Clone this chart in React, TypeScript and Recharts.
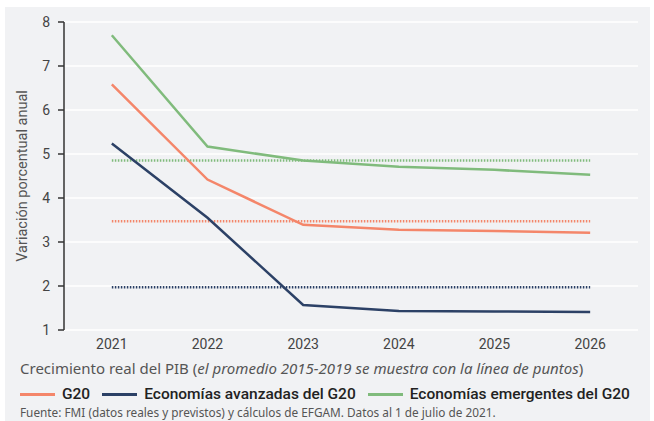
import React from 'react';
import { LineChart, Line, XAxis, YAxis, CartesianGrid, Label } from 'recharts';

const years = ['2021', '2022', '2023', '2024', '2025', '2026'];
const g20 = [6.58, 4.42, 3.39, 3.28, 3.25, 3.21];
const advanced = [5.24, 3.55, 1.57, 1.43, 1.42, 1.41];
const emerging = [7.7, 5.17, 4.85, 4.71, 4.64, 4.53];
// promedio 2015-2019
const g20Avg = 3.47;
const advancedAvg = 1.97;
const emergingAvg = 4.85;
const yTicks = [1, 2, 3, 4, 5, 6, 7, 8];

const ORANGE = '#F4866A';
const NAVY = '#2C4166';
const GREEN = '#80BB7C';
const FONT = 'Roboto, "Noto Sans", sans-serif';
const WIDE = '"Noto Sans", Roboto, sans-serif';

const data = years.map((year, i) => ({
  year,
  pos: i + 0.5,
  g20: g20[i],
  advanced: advanced[i],
  emerging: emerging[i],
  g20Avg,
  advancedAvg,
  emergingAvg,
}));

const legendItems = [
  { name: 'G20', color: ORANGE },
  { name: 'Economías avanzadas del G20', color: NAVY },
  { name: 'Economías emergentes del G20', color: GREEN },
];

const App: React.FC = () => {
  return (
    <div style={{ position: 'absolute', left: 0, top: 0, width: 654, height: 421, background: '#fff', fontFamily: FONT, overflow: 'hidden' }}>
      <div style={{ position: 'absolute', left: 5, top: 7, width: 645, height: 414, background: '#F1F2F4' }} />
      <div style={{ position: 'absolute', left: 0, top: 0 }}>
        <LineChart width={654} height={360} data={data} margin={{ top: 22, right: 16, left: 0, bottom: 0 }}>
          <CartesianGrid vertical={false} stroke="#ffffff" strokeWidth={1.5} />
          <XAxis
            xAxisId="edges"
            dataKey="pos"
            type="number"
            domain={[0, 6]}
            ticks={[0, 1, 2, 3, 4, 5, 6]}
            tick={false}
            height={0}
            axisLine={{ stroke: '#333', strokeWidth: 1.5 }}
            tickLine={{ stroke: '#333', strokeWidth: 1.5 }}
            tickSize={7}
          />
          <XAxis
            xAxisId="yr"
            dataKey="pos"
            type="number"
            domain={[0, 6]}
            ticks={[0.5, 1.5, 2.5, 3.5, 4.5, 5.5]}
            tickFormatter={(v: number) => years[Math.floor(v)]}
            axisLine={false}
            tickLine={false}
            height={30}
            tickMargin={3}
            tick={{ fill: '#444', fontSize: 14, fontFamily: FONT }}
          />
          <YAxis
            domain={[1, 8]}
            ticks={yTicks}
            width={64}
            axisLine={{ stroke: '#333', strokeWidth: 1.5 }}
            tickLine={{ stroke: '#333', strokeWidth: 1.5 }}
            tickMargin={8}
            tick={{ fill: '#444', fontSize: 14, fontFamily: FONT }}
          >
            <Label
              value="Variación porcentual anual"
              angle={-90}
              position="insideLeft"
              offset={22}
              style={{ textAnchor: 'middle', fill: '#555', fontSize: 14.5, fontFamily: FONT }}
            />
          </YAxis>
          <Line xAxisId="yr" dataKey="emergingAvg" stroke={GREEN} strokeWidth={2.5} strokeDasharray="1.5 1.5" dot={false} isAnimationActive={false} />
          <Line xAxisId="yr" dataKey="g20Avg" stroke={ORANGE} strokeWidth={2.5} strokeDasharray="1.5 1.5" dot={false} isAnimationActive={false} />
          <Line xAxisId="yr" dataKey="advancedAvg" stroke={NAVY} strokeWidth={2.5} strokeDasharray="1.5 1.5" dot={false} isAnimationActive={false} />
          <Line xAxisId="yr" dataKey="emerging" stroke={GREEN} strokeWidth={2.5} dot={false} isAnimationActive={false} />
          <Line xAxisId="yr" dataKey="g20" stroke={ORANGE} strokeWidth={2.5} dot={false} isAnimationActive={false} />
          <Line xAxisId="yr" dataKey="advanced" stroke={NAVY} strokeWidth={2.5} dot={false} isAnimationActive={false} />
        </LineChart>
      </div>
      <div style={{ position: 'absolute', left: 20, top: 358, fontSize: 15, fontFamily: WIDE, color: '#555', whiteSpace: 'nowrap' }}>
        Crecimiento real del PIB (<i>el promedio 2015-2019 se muestra con la línea de puntos</i>)
      </div>
      <div style={{ position: 'absolute', left: 20, top: 385, display: 'flex', alignItems: 'center', fontSize: 15.5, color: '#222', whiteSpace: 'nowrap', fontWeight: 500 }}>
        {legendItems.map((item) => (
          <div key={item.name} style={{ display: 'flex', alignItems: 'center', marginRight: 12 }}>
            <span style={{ display: 'inline-block', width: 35, height: 3, background: item.color, marginRight: 7 }} />
            <span>{item.name}</span>
          </div>
        ))}
      </div>
      <div style={{ position: 'absolute', left: 20, top: 404, fontSize: 11.8, fontFamily: WIDE, color: '#555', whiteSpace: 'nowrap' }}>
        Fuente: FMI (datos reales y previstos) y cálculos de EFGAM. Datos al 1 de julio de 2021.
      </div>
    </div>
  );
};

export default App;
